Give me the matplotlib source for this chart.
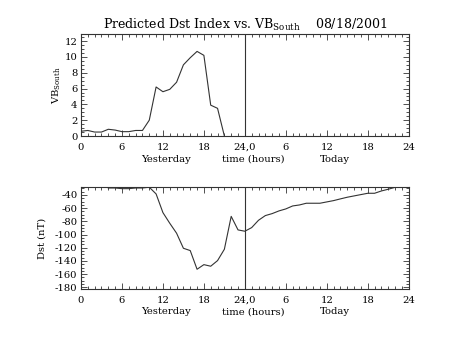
import matplotlib
matplotlib.use("Agg")
import matplotlib.pyplot as plt
from matplotlib.ticker import MultipleLocator, FixedLocator

plt.rcParams['font.family'] = 'DejaVu Serif'
plt.rcParams['mathtext.fontset'] = 'dejavuserif'
plt.rcParams['axes.unicode_minus'] = False

# VB_South (hourly, yesterday)
vb_hours = [0, 1, 2, 3, 4, 5, 6, 7, 8, 9, 10, 11, 12, 13, 14, 15, 16, 17, 18, 19, 20, 21]
vb_values = [0.6, 0.7, 0.5, 0.5, 0.85, 0.75, 0.55, 0.55, 0.7, 0.7, 2.0, 6.2, 5.6, 5.9, 6.8,
             9.0, 9.9, 10.7, 10.2, 3.9, 3.5, 0.0]

# Dst (hourly, hours 0-48 spanning yesterday and today)
dst_hours = [4, 5, 6, 7, 8, 9, 10, 11, 12, 13, 14, 15, 16, 17, 18, 19, 20, 21, 22, 23, 24,
             25, 26, 27, 28, 29, 30, 31, 32, 33, 34, 35, 36, 37, 38, 39, 40, 41, 42, 43,
             44, 45, 46]
dst_values = [-29.5, -29.5, -30.5, -30.5, -29.5, -29.5, -28.3, -38.5, -66.8, -82.9, -98.0,
              -120.8, -124.3, -152.6, -145.6, -148.0, -139.5, -122.3, -72.5, -93.0, -95.0,
              -89.5, -78.4, -71.3, -68.3, -64.2, -61.2, -56.7, -55.2, -52.6, -52.6, -52.6,
              -50.6, -48.6, -46.0, -43.5, -41.5, -39.5, -37.5, -37.5, -34.0, -31.4, -28.5]

xtick_pos = [0, 6, 12, 18, 24, 30, 36, 42, 48]
xtick_labels = ['0', '6', '12', '18', '24,0', '6', '12', '18', '24']
vb_yticks = [0, 2, 4, 6, 8, 10, 12]
dst_yticks = [-40, -60, -80, -100, -120, -140, -160, -180]
sub_labels = ['Yesterday', 'time (hours)', 'Today']
sub_label_hours = [12.5, 25.2, 37.2]

title_text = r'Predicted Dst Index vs. VB$_{\rm South}$    08/18/2001'

W, H = 454, 341
fig = plt.figure(figsize=(W / 100, H / 100), dpi=100)

lc = '#333333'
fs = 7.2
AX_H = 102

def setup(ax):
    ax.set_xlim(0, 48)
    ax.xaxis.set_major_locator(FixedLocator(xtick_pos))
    ax.set_xticklabels(xtick_labels)
    ax.xaxis.set_minor_locator(MultipleLocator(1))
    ax.tick_params(which='both', direction='in', top=True, right=True, colors=lc,
                   labelcolor='black', labelsize=fs, width=0.6)
    ax.tick_params(which='major', length=4)
    ax.tick_params(which='minor', length=2)
    ax.tick_params(axis='x', which='major', pad=5)
    ax.tick_params(axis='y', which='major', pad=2.5)
    for s in ax.spines.values():
        s.set_color(lc)
        s.set_linewidth(0.8)
    ax.axvline(24, color=lc, lw=0.8)
    for xh, txt in zip(sub_label_hours, sub_labels):
        ax.text(xh, -25.5 / AX_H, txt, transform=ax.get_xaxis_transform(), ha='center',
                va='baseline', fontsize=fs)

# Top panel
ax1 = fig.add_axes([81 / W, 1 - 136 / H, 327.7 / W, AX_H / H])
ax1.plot(vb_hours, vb_values, color=lc, lw=0.8)
setup(ax1)
ax1.set_ylim(0, 12.9)
ax1.yaxis.set_major_locator(FixedLocator(vb_yticks))
ax1.yaxis.set_minor_locator(MultipleLocator(0.5))
ax1.set_ylabel(r'VB$_{\rm South}$', fontsize=fs)
ax1.yaxis.set_label_coords(-0.055, 0.5)
ax1.set_title(title_text, fontsize=9, pad=4)

# Bottom panel
ax2 = fig.add_axes([81 / W, 1 - 289 / H, 327.7 / W, AX_H / H])
ax2.plot(dst_hours, dst_values, color=lc, lw=0.8)
setup(ax2)
ax2.set_ylim(-182.5, -28)
ax2.yaxis.set_major_locator(FixedLocator(dst_yticks))
ax2.yaxis.set_minor_locator(MultipleLocator(5))
ax2.set_ylabel('Dst (nT)', fontsize=fs)
ax2.yaxis.set_label_coords(-0.104, 0.5)

fig.savefig('out.png', dpi=100, facecolor='white')
